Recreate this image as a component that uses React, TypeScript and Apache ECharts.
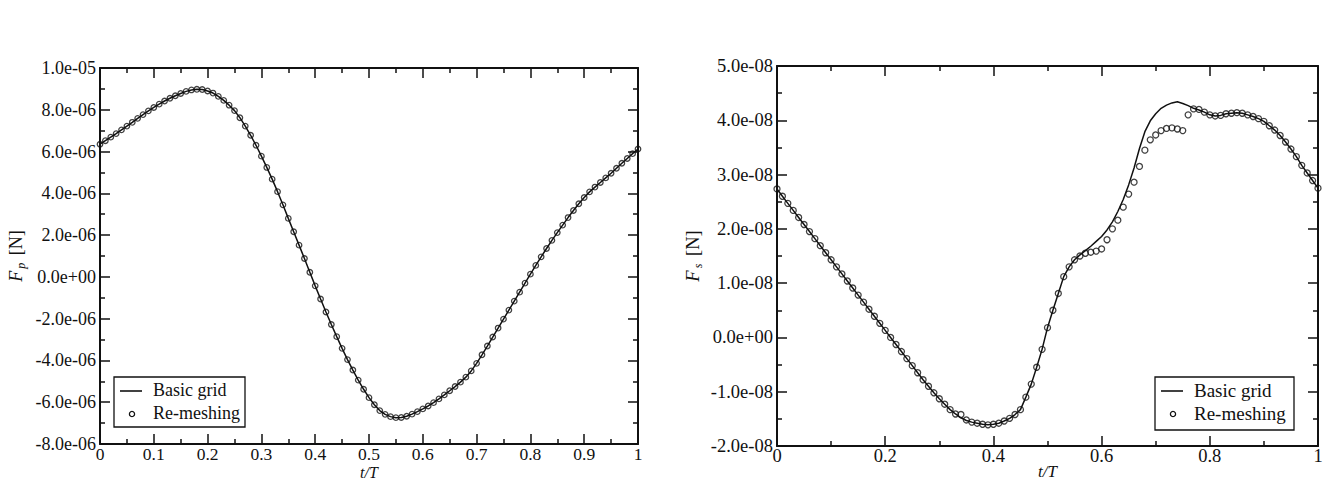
import React, { useEffect, useRef } from "react";
import * as echarts from "echarts";

// Sampling grid t/T (0 .. 1 step 0.01)
const tValues: number[] = Array.from({ length: 101 }, (_, i) => i / 100);

// Left panel: F_p [N] in units of 1e-6 (both runs coincide)
const fpBasic: number[] = [
  6.35, 6.52, 6.69, 6.86, 7.04, 7.22, 7.40, 7.59, 7.77, 7.95,
  8.11, 8.27, 8.42, 8.55, 8.67, 8.78, 8.88, 8.95, 8.98, 8.97,
  8.90, 8.80, 8.64, 8.45, 8.22, 7.96, 7.62, 7.22, 6.78, 6.30,
  5.78, 5.24, 4.68, 4.08, 3.45, 2.80, 2.16, 1.52, 0.88, 0.22,
  -0.43, -1.06, -1.68, -2.28, -2.86, -3.42, -3.96, -4.46, -4.94, -5.38,
  -5.78, -6.12, -6.40, -6.58, -6.69, -6.74, -6.73, -6.67, -6.57, -6.45,
  -6.32, -6.18, -6.02, -5.84, -5.65, -5.45, -5.25, -5.04, -4.80, -4.50,
  -4.14, -3.73, -3.31, -2.88, -2.45, -2.02, -1.59, -1.16, -0.73, -0.30,
  0.13, 0.55, 0.96, 1.36, 1.75, 2.12, 2.48, 2.84, 3.18, 3.50,
  3.80, 4.07, 4.30, 4.52, 4.74, 4.96, 5.20, 5.44, 5.67, 5.90,
  6.12,
];
const fpRemesh: number[] = fpBasic;

// Right panel: F_s [N] in units of 1e-8
const fsBasic: number[] = [
  2.735, 2.60, 2.47, 2.34, 2.21, 2.08, 1.95, 1.82, 1.69, 1.56,
  1.43, 1.30, 1.17, 1.04, 0.91, 0.78, 0.65, 0.52, 0.39, 0.26,
  0.13, 0.00, -0.13, -0.26, -0.39, -0.52, -0.65, -0.78, -0.90, -1.02,
  -1.13, -1.23, -1.33, -1.41, -1.48, -1.53, -1.56, -1.58, -1.60, -1.61,
  -1.60, -1.58, -1.54, -1.49, -1.42, -1.33, -1.10, -0.86, -0.55, -0.22,
  0.18, 0.50, 0.81, 1.12, 1.30, 1.43, 1.52, 1.60, 1.68, 1.77,
  1.86, 1.98, 2.13, 2.32, 2.54, 2.81, 3.12, 3.48, 3.79, 3.99,
  4.12, 4.22, 4.28, 4.32, 4.34, 4.31, 4.27, 4.22, 4.19, 4.15,
  4.10, 4.08, 4.09, 4.12, 4.13, 4.14, 4.13, 4.10, 4.07, 4.03,
  3.98, 3.90, 3.82, 3.72, 3.60, 3.47, 3.33, 3.17, 3.03, 2.89,
  2.75,
];
const fsRemesh: number[] = [
  2.735, 2.60, 2.47, 2.34, 2.21, 2.08, 1.95, 1.82, 1.69, 1.56,
  1.43, 1.30, 1.17, 1.04, 0.91, 0.78, 0.65, 0.52, 0.39, 0.26,
  0.13, 0.00, -0.13, -0.26, -0.39, -0.52, -0.65, -0.78, -0.90, -1.02,
  -1.13, -1.23, -1.33, -1.41, -1.42, -1.52, -1.56, -1.58, -1.60, -1.61,
  -1.60, -1.58, -1.54, -1.49, -1.42, -1.33, -1.10, -0.86, -0.55, -0.22,
  0.18, 0.50, 0.81, 1.12, 1.30, 1.43, 1.50, 1.55, 1.57, 1.59,
  1.63, 1.80, 2.00, 2.16, 2.40, 2.64, 2.86, 3.15, 3.45, 3.64,
  3.73, 3.81, 3.85, 3.86, 3.84, 3.81, 4.10, 4.21, 4.20, 4.15,
  4.10, 4.08, 4.09, 4.12, 4.13, 4.14, 4.13, 4.10, 4.07, 4.03,
  3.98, 3.90, 3.82, 3.72, 3.60, 3.47, 3.33, 3.17, 3.03, 2.89,
  2.75,
];

// Tick labels
const leftXLabels = ["0", "0.1", "0.2", "0.3", "0.4", "0.5", "0.6", "0.7", "0.8", "0.9", "1"];
const leftYLabels = ["-8.0e-06", "-6.0e-06", "-4.0e-06", "-2.0e-06", "0.0e+00", "2.0e-06", "4.0e-06", "6.0e-06", "8.0e-06", "1.0e-05"];
const rightXLabels = ["0", "0.2", "0.4", "0.6", "0.8", "1"];
const rightYLabels = ["-2.0e-08", "-1.0e-08", "0.0e+00", "1.0e-08", "2.0e-08", "3.0e-08", "4.0e-08", "5.0e-08"];

const seriesNames = ["Basic grid", "Re-meshing"];

const FONT = "'Liberation Serif', 'Times New Roman', Times, serif";
const INK = "#111";

function pairs(values: number[], scale: number): [number, number][] {
  return values.map((v, i) => [tValues[i], v * scale]);
}

function labeler(labels: string[], min: number, interval: number) {
  return (v: number) => {
    const k = Math.round((v - min) / interval);
    return labels[k] ?? "";
  };
}

function xAxisPair(
  gridIndex: number,
  interval: number,
  labels: string[],
  fs: number,
  margin: number,
  nameGap: number,
  nameSize: number
) {
  const common = {
    type: "value" as const,
    gridIndex,
    min: 0,
    max: 1,
    interval,
    axisLine: { show: true, onZero: false, lineStyle: { color: INK, width: 2 } },
    axisTick: { show: true, inside: true, length: 10, lineStyle: { color: INK, width: 1.5 } },
    minorTick: { show: true, splitNumber: 2, length: 5, lineStyle: { color: INK, width: 1.5 } },
    splitLine: { show: false },
    minorSplitLine: { show: false },
  };
  return [
    {
      ...common,
      position: "bottom",
      axisLabel: {
        show: true,
        margin,
        color: INK,
        fontFamily: FONT,
        fontSize: fs,
        lineHeight: 16,
        formatter: labeler(labels, 0, interval),
      },
      name: "t/T",
      nameLocation: "middle",
      nameGap,
      nameMoveOverlap: false,
      nameTextStyle: { fontFamily: FONT, fontStyle: "italic", fontSize: nameSize, color: INK, lineHeight: 14, verticalAlign: "top" },
    },
    { ...common, position: "top", axisLabel: { show: false } },
  ];
}

function yAxisPair(gridIndex: number, min: number, max: number, interval: number, labels: string[], fs: number, sub: string) {
  const common = {
    type: "value" as const,
    gridIndex,
    min,
    max,
    interval,
    axisLine: { show: true, onZero: false, lineStyle: { color: INK, width: 2 } },
    axisTick: { show: true, inside: true, length: 10, lineStyle: { color: INK, width: 1.5 } },
    minorTick: { show: true, splitNumber: 2, length: 5, lineStyle: { color: INK, width: 1.5 } },
    splitLine: { show: false },
    minorSplitLine: { show: false },
  };
  return [
    {
      ...common,
      position: "left",
      axisLabel: { show: true, margin: 4, color: INK, fontFamily: FONT, fontSize: fs, formatter: labeler(labels, min, interval) },
      name: `{f|F}{s|${sub}}{n| [N]}`,
      nameLocation: "middle",
      nameRotate: 90,
      nameGap: 73,
      nameMoveOverlap: false,
      nameTextStyle: {
        fontFamily: FONT,
        fontSize: fs,
        color: INK,
        rich: {
          f: { fontFamily: FONT, fontStyle: "italic", fontSize: fs, color: INK, lineHeight: 22, verticalAlign: "middle" },
          s: { fontFamily: FONT, fontStyle: "italic", fontSize: 12, color: INK, lineHeight: 22, verticalAlign: "bottom", padding: [10, 3, 0, 2] },
          n: { fontFamily: FONT, fontSize: fs, color: INK, lineHeight: 22, verticalAlign: "middle" },
        },
      },
    },
    { ...common, position: "right", axisLabel: { show: false } },
  ];
}

function legendGraphics(x: number, y: number, w: number, h: number, fs: number) {
  return [
    {
      type: "rect",
      z: 100,
      shape: { x, y, width: w, height: h },
      style: { fill: "#fff", stroke: INK, lineWidth: 1.3 },
    },
    {
      type: "line",
      z: 101,
      shape: { x1: x + 6, y1: y + 14, x2: x + 28, y2: y + 14 },
      style: { stroke: INK, lineWidth: 1.6 },
    },
    {
      type: "circle",
      z: 101,
      shape: { cx: x + 18, cy: y + 37, r: 2.6 },
      style: { fill: "none", stroke: INK, lineWidth: 1.3 },
    },
    {
      type: "text",
      z: 101,
      x: x + 39,
      y: y + 13,
      style: { text: seriesNames[0], fill: INK, fontFamily: FONT, fontSize: fs, verticalAlign: "middle", align: "left" },
    },
    {
      type: "text",
      z: 101,
      x: x + 39,
      y: y + 36,
      style: { text: seriesNames[1], fill: INK, fontFamily: FONT, fontSize: fs, verticalAlign: "middle", align: "left" },
    },
  ];
}

export default function App() {
  const ref = useRef<HTMLDivElement>(null);

  useEffect(() => {
    if (!ref.current) return;
    const chart = echarts.init(ref.current, null, { renderer: "svg" });

    const lineStyle = { color: INK, width: 1.5 };
    const markerStyle = { color: "rgba(0,0,0,0)", borderColor: INK, borderWidth: 1.3 };

    chart.setOption({
      animation: false,
      backgroundColor: "#fff",
      textStyle: { fontFamily: FONT },
      grid: [
        { left: 100, top: 68, width: 538, height: 376, containLabel: false, outerBoundsMode: "none" },
        { left: 777, top: 66, width: 541, height: 380, containLabel: false, outerBoundsMode: "none" },
      ],
      xAxis: [
        ...xAxisPair(0, 0.1, leftXLabels, 17.5, 2, 21, 16),
        ...xAxisPair(1, 0.2, rightXLabels, 18.5, 2, 18, 17),
      ],
      yAxis: [
        ...yAxisPair(0, -8e-6, 1e-5, 2e-6, leftYLabels, 18, "p"),
        ...yAxisPair(1, -2e-8, 5e-8, 1e-8, rightYLabels, 18.5, "s"),
      ],
      series: [
        {
          name: seriesNames[0],
          type: "line",
          xAxisIndex: 0,
          yAxisIndex: 0,
          data: pairs(fpBasic, 1e-6),
          symbol: "none",
          lineStyle,
          z: 3,
        },
        {
          name: seriesNames[1],
          type: "scatter",
          xAxisIndex: 0,
          yAxisIndex: 0,
          data: pairs(fpRemesh, 1e-6),
          symbol: "circle",
          symbolSize: 5.5,
          itemStyle: markerStyle,
          z: 4,
        },
        {
          name: seriesNames[0],
          type: "line",
          xAxisIndex: 2,
          yAxisIndex: 2,
          data: pairs(fsBasic, 1e-8),
          symbol: "none",
          lineStyle,
          z: 3,
        },
        {
          name: seriesNames[1],
          type: "scatter",
          xAxisIndex: 2,
          yAxisIndex: 2,
          data: pairs(fsRemesh, 1e-8),
          symbol: "circle",
          symbolSize: 6,
          itemStyle: markerStyle,
          z: 4,
        },
      ],
      graphic: [
        ...legendGraphics(114, 377, 131, 50, 18),
        ...legendGraphics(1155, 377, 139, 53, 19),
      ],
    });

    return () => chart.dispose();
  }, []);

  return (
    <div
      ref={ref}
      style={{ position: "absolute", left: 0, top: 0, width: 1329, height: 480, background: "#fff" }}
    />
  );
}
